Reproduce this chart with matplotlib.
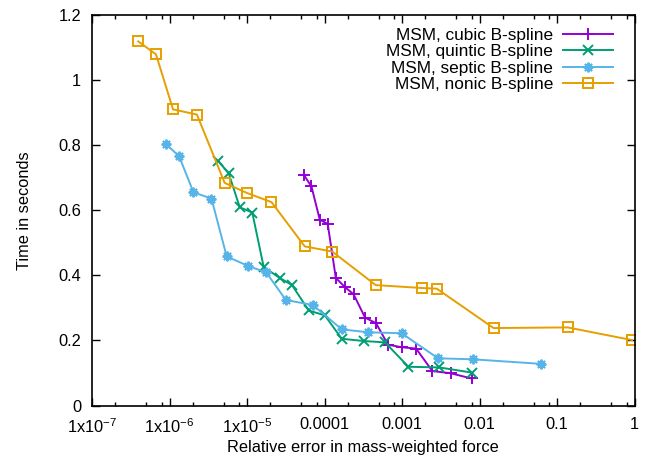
import matplotlib
matplotlib.use("Agg")
from matplotlib import pyplot as plt
from matplotlib.ticker import LogLocator, FixedLocator, NullFormatter

plt.rcParams['font.family'] = ['Liberation Sans', 'DejaVu Sans']
plt.rcParams['mathtext.default'] = 'regular'

# relative error / time (s) for each B-spline order
cubic_err = [5.43e-5, 6.79e-5, 8.69e-5, 1.10e-4, 1.40e-4, 1.83e-4, 2.37e-4, 3.34e-4,
             4.62e-4, 6.59e-4, 9.9e-4, 1.52e-3, 2.46e-3, 4.25e-3, 7.92e-3]
cubic_time = [0.708, 0.673, 0.571, 0.558, 0.392, 0.364, 0.342, 0.270,
              0.253, 0.187, 0.179, 0.175, 0.106, 0.099, 0.083]

quintic_err = [4.27e-6, 5.81e-6, 8.07e-6, 1.17e-5, 1.64e-5, 2.64e-5, 3.81e-5, 6.25e-5,
               1.01e-4, 1.67e-4, 3.27e-4, 6.04e-4, 1.21e-3, 3.03e-3, 8.0e-3]
quintic_time = [0.751, 0.713, 0.609, 0.593, 0.426, 0.392, 0.370, 0.292,
                0.277, 0.205, 0.198, 0.194, 0.119, 0.117, 0.101]

septic_err = [8.93e-7, 1.33e-6, 2.04e-6, 3.48e-6, 5.47e-6, 1.03e-5, 1.77e-5, 3.18e-5,
              7.05e-5, 1.67e-4, 3.64e-4, 9.9e-4, 2.92e-3, 8.17e-3, 6.17e-2]
septic_time = [0.804, 0.766, 0.655, 0.636, 0.458, 0.429, 0.409, 0.324,
               0.309, 0.234, 0.225, 0.222, 0.145, 0.142, 0.128]

nonic_err = [3.95e-7, 6.7e-7, 1.11e-6, 2.26e-6, 5.15e-6, 1.0e-5, 2.07e-5, 5.56e-5,
             1.26e-4, 4.58e-4, 1.83e-3, 2.81e-3, 1.52e-2, 0.137, 0.93]
nonic_time = [1.119, 1.079, 0.910, 0.894, 0.684, 0.653, 0.625, 0.489,
              0.473, 0.370, 0.361, 0.359, 0.238, 0.240, 0.201]

x_ticks = [1e-7, 1e-6, 1e-5, 1e-4, 1e-3, 1e-2, 1e-1, 1]
x_labels = ['1x10$^{-7}$', '1x10$^{-6}$', '1x10$^{-5}$', '0.0001', '0.001', '0.01', '0.1', '1']
y_ticks = [0, 0.2, 0.4, 0.6, 0.8, 1.0, 1.2]
y_labels = ['0', '0.2', '0.4', '0.6', '0.8', '1', '1.2']

fig = plt.figure(figsize=(6.47, 4.57), dpi=100)
ax = fig.add_axes([92 / 647, 1 - 405.5 / 457, 542.5 / 647, 390.5 / 457])

lw = 1.4
ax.plot(cubic_err, cubic_time, color='#9400d3', lw=lw, marker='+', ms=8, mew=1.4,
        label='MSM, cubic B-spline')
ax.plot(quintic_err, quintic_time, color='#009e73', lw=lw, marker='x', ms=6.5, mew=1.4,
        label='MSM, quintic B-spline')
ax.plot(septic_err, septic_time, color='#56b4e9', lw=lw, marker=(8, 2, 0), ms=7, mew=1.4,
        label='MSM, septic B-spline')
ax.plot(nonic_err, nonic_time, color='#e69f00', lw=lw, marker='s', ms=7, mew=1.4,
        mfc='none', label='MSM, nonic B-spline')

ax.set_xscale('log')
ax.set_xlim(1e-7, 1)
ax.set_ylim(0, 1.2)
ax.xaxis.set_major_locator(FixedLocator(x_ticks))
ax.set_xticklabels(x_labels)
ax.xaxis.set_minor_locator(LogLocator(base=10, subs=(2, 5, 8), numticks=20))
ax.xaxis.set_minor_formatter(NullFormatter())
ax.set_yticks(y_ticks)
ax.set_yticklabels(y_labels)

ax.tick_params(which='both', direction='in', top=True, right=True, labelsize=11.8, width=1)
ax.tick_params(which='major', length=6)
ax.tick_params(which='minor', length=3)
ax.tick_params(axis='x', pad=8.2)
ax.tick_params(axis='y', pad=7.8)
for s in ax.spines.values():
    s.set_linewidth(1.2)

ax.set_xlabel('Relative error in mass-weighted force', fontsize=11.8, labelpad=3.5)
ax.set_ylabel('Time in seconds', fontsize=11.8, labelpad=19)

ax.legend(loc='upper right', bbox_to_anchor=(0.9604, 0.967), frameon=False, markerfirst=False,
          fontsize=12.4, handlelength=2.9, handletextpad=0.58, labelspacing=0.08,
          borderaxespad=0, borderpad=0)

fig.savefig('out.png', dpi=100)
